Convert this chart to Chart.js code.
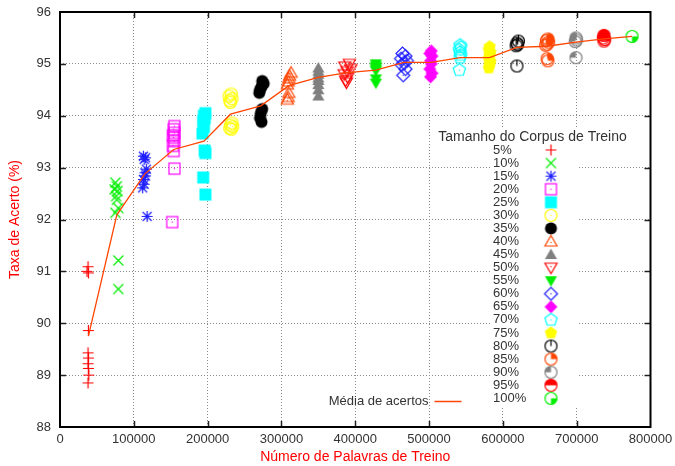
<!DOCTYPE html>
<html>
<head>
<meta charset="utf-8">
<script src="https://cdn.jsdelivr.net/npm/chart.js@4.4.0/dist/chart.umd.min.js"></script>
<style>
    html, body { margin: 0; padding: 0; background: #fff; }
    #wrap { width: 675px; height: 466px; }
</style>
</head>
<body>
<div id="wrap"><canvas id="chart"></canvas></div>
<script>
// Taxa de acerto x número de palavras de treino

const sizes = ['5%', '10%', '15%', '20%', '25%', '30%', '35%', '40%', '45%', '50%',
    '55%', '60%', '65%', '70%', '75%', '80%', '85%', '90%', '95%', '100%'];

const words = [
    [38000, 36500, 38500, 38500, 38000, 38500, 38000, 38500, 39000, 38000],
    [75000, 77000, 74000, 78000, 76000, 77000, 79000, 75000, 79000, 79000],
    [113000, 116000, 114000, 117000, 115000, 116000, 113000, 114000, 112000, 118000],
    [155000, 154000, 155000, 153000, 154000, 155000, 153000, 154000, 155000, 152000],
    [197000, 195000, 196000, 194000, 195000, 193000, 196000, 197000, 194000, 197000],
    [232000, 229000, 233000, 230000, 231000, 233000, 231000, 234000, 230000, 232000],
    [274000, 276000, 273000, 271000, 270000, 274000, 272000, 271000, 273000],
    [313000, 311000, 310000, 309000, 308000, 310000, 309000, 308000],
    [350000, 350000, 350000, 350000, 350000, 350000, 350000, 350000],
    [392000, 386000, 394000, 389000, 385000, 390000, 387000, 388000],
    [428000, 428000, 428000, 428000, 428000, 428000, 428000],
    [464000, 468000, 462000, 470000, 466000, 463000, 468000, 465000],
    [503000, 501000, 504000, 502000, 503000, 501000, 504000, 502000],
    [542000, 543000, 541000, 542000, 543000, 542000, 541000],
    [582000, 581000, 583000, 582000, 581000, 583000, 582000, 581000],
    [621000, 619000, 620000, 618000, 619000],
    [661000, 659000, 662000, 660000, 658000, 660000, 661000],
    [699000, 700000, 698000, 699000],
    [737000, 736000, 738000, 737000],
    [775000]
];

const accuracy = [
    [91.09, 91.0, 90.97, 89.86, 89.43, 89.33, 89.22, 89.13, 89.0, 88.85],
    [92.71, 92.64, 92.58, 92.55, 92.45, 92.38, 92.22, 92.13, 91.21, 90.66],
    [93.22, 93.19, 93.16, 92.97, 92.9, 92.84, 92.77, 92.68, 92.61, 92.06],
    [93.8, 93.74, 93.67, 93.62, 93.58, 93.51, 93.42, 93.32, 92.98, 91.95],
    [94.05, 94.0, 93.95, 93.9, 93.78, 93.66, 93.33, 93.28, 92.81, 92.48],
    [94.42, 94.38, 94.33, 94.29, 94.26, 93.86, 93.82, 93.79, 93.76, 93.74],
    [94.67, 94.62, 94.56, 94.5, 94.44, 94.13, 94.05, 93.96, 93.88],
    [94.83, 94.77, 94.72, 94.66, 94.6, 94.44, 94.36, 94.31],
    [94.92, 94.86, 94.8, 94.73, 94.68, 94.6, 94.5, 94.38],
    [95.0, 94.95, 94.9, 94.86, 94.8, 94.74, 94.68, 94.64],
    [95.0, 94.96, 94.93, 94.9, 94.87, 94.71, 94.63],
    [95.2, 95.15, 95.1, 95.06, 95.02, 94.98, 94.9, 94.78],
    [95.25, 95.2, 95.15, 95.06, 95.0, 94.9, 94.82, 94.75],
    [95.36, 95.32, 95.27, 95.22, 95.17, 95.12, 94.88],
    [95.33, 95.27, 95.22, 95.16, 95.1, 95.04, 94.98, 94.92],
    [95.44, 95.4, 95.37, 95.35, 94.96],
    [95.48, 95.45, 95.42, 95.38, 95.36, 95.1, 95.06],
    [95.5, 95.46, 95.43, 95.12],
    [95.55, 95.5, 95.47, 95.44],
    [95.53]
];

const meanWords = [38500, 77000, 115000, 154000, 195000, 231000, 272000, 310000, 350000, 389000,
    428000, 466000, 503000, 542000, 582000, 619000, 660000, 699000, 737000, 775000];
const meanAccuracy = [89.75, 92.09, 92.88, 93.35, 93.51, 94.03, 94.19, 94.58, 94.74, 94.83,
    94.88, 95.03, 95.03, 95.12, 95.12, 95.32, 95.34, 95.42, 95.48, 95.53];

const colors = ['#ff0000', '#00ee00', '#1f1fff', '#ff00ff', '#00ffff', '#ffff00', '#000000', '#ff4500', '#808080', '#ff0000',
    '#00ee00', '#1f1fff', '#ff00ff', '#00ffff', '#ffff00', '#000000', '#ff4500', '#808080', '#ff0000', '#00ee00'];
const symbols = ['plus', 'cross', 'star', 'square', 'squareFill', 'circle', 'circleFill', 'tri', 'triFill', 'triDown',
    'triDownFill', 'diamond', 'diamondFill', 'pent', 'pentFill', 'clock', 'quarterTR', 'quarterTL', 'halfTop', 'quarterBR'];

const lineColor = '#ff4500';
const textColor = '#333';
const fontFamily = '"Liberation Sans", Arial, sans-serif';

function makeSymbol(kind, color) {
    const c = document.createElement('canvas');
    c.width = 17;
    c.height = 17;
    const g = c.getContext('2d');
    const m = 8.5, r = 6;
    g.strokeStyle = color;
    g.fillStyle = color;
    g.lineWidth = 1.2;

    function poly(n, start, rad) {
        g.beginPath();
        for (let i = 0; i < n; i++) {
            const a = start + i * 2 * Math.PI / n;
            const px = m + rad * Math.cos(a), py = m + rad * Math.sin(a);
            if (i === 0) g.moveTo(px, py); else g.lineTo(px, py);
        }
        g.closePath();
    }
    function dot() {
        g.fillRect(m - 0.6, m - 0.6, 1.2, 1.2);
    }
    function ring() {
        g.beginPath();
        g.arc(m, m, r, 0, 2 * Math.PI);
        g.stroke();
    }
    function sector(a0, a1) {
        g.beginPath();
        g.moveTo(m, m);
        g.arc(m, m, r, a0, a1);
        g.closePath();
        g.fill();
    }

    switch (kind) {
        case 'plus':
            g.beginPath();
            g.moveTo(m - 5.5, m); g.lineTo(m + 5.5, m);
            g.moveTo(m, m - 5.5); g.lineTo(m, m + 5.5);
            g.stroke();
            break;
        case 'cross':
            g.beginPath();
            g.moveTo(m - 5, m - 5); g.lineTo(m + 5, m + 5);
            g.moveTo(m + 5, m - 5); g.lineTo(m - 5, m + 5);
            g.stroke();
            break;
        case 'star':
            g.beginPath();
            g.moveTo(m - 5.5, m); g.lineTo(m + 5.5, m);
            g.moveTo(m, m - 5.5); g.lineTo(m, m + 5.5);
            g.moveTo(m - 4.5, m - 4.5); g.lineTo(m + 4.5, m + 4.5);
            g.moveTo(m + 4.5, m - 4.5); g.lineTo(m - 4.5, m + 4.5);
            g.stroke();
            break;
        case 'square':
            g.strokeRect(m - 5.5, m - 5.5, 11, 11);
            dot();
            break;
        case 'squareFill':
            g.fillRect(m - 6, m - 6, 12, 12);
            break;
        case 'circle':
            ring();
            dot();
            break;
        case 'circleFill':
            g.beginPath();
            g.arc(m, m, r, 0, 2 * Math.PI);
            g.fill();
            break;
        case 'tri':
            g.translate(0, 1);
            poly(3, -Math.PI / 2, 7);
            g.stroke();
            dot();
            break;
        case 'triFill':
            g.translate(0, 1);
            poly(3, -Math.PI / 2, 7);
            g.fill();
            break;
        case 'triDown':
            g.translate(0, -1);
            poly(3, Math.PI / 2, 7);
            g.stroke();
            dot();
            break;
        case 'triDownFill':
            g.translate(0, -1);
            poly(3, Math.PI / 2, 7);
            g.fill();
            break;
        case 'diamond':
            poly(4, 0, 6.5);
            g.stroke();
            dot();
            break;
        case 'diamondFill':
            poly(4, 0, 6.5);
            g.fill();
            break;
        case 'pent':
            poly(5, -Math.PI / 2, 6.5);
            g.stroke();
            dot();
            break;
        case 'pentFill':
            poly(5, -Math.PI / 2, 6.5);
            g.fill();
            break;
        case 'clock':
            ring();
            g.beginPath();
            g.moveTo(m, m); g.lineTo(m, m - r);
            g.stroke();
            break;
        case 'quarterTR':
            ring();
            sector(-Math.PI / 2, 0);
            break;
        case 'quarterTL':
            ring();
            sector(-Math.PI, -Math.PI / 2);
            break;
        case 'halfTop':
            ring();
            sector(-Math.PI, 0);
            break;
        case 'quarterBR':
            ring();
            sector(0, Math.PI / 2);
            break;
    }
    return c;
}

const symbolImages = sizes.map((s, i) => makeSymbol(symbols[i], colors[i]));

// white box behind the key entries, drawn over the grid
const keyBox = {
    id: 'keyBox',
    beforeDatasetsDraw(chart) {
        const { ctx, chartArea } = chart;
        ctx.save();
        ctx.fillStyle = '#fff';
        ctx.fillRect(chartArea.right - 160, chartArea.top + 116, 87, 280);
        ctx.restore();
    }
};

// gnuplot-like frame with inward ticks and the key
const frameAndKey = {
    id: 'frameAndKey',
    afterDraw(chart) {
        const { ctx, chartArea, scales } = chart;
        const { left, right, top, bottom } = chartArea;
        ctx.save();

        ctx.strokeStyle = '#222';
        ctx.lineWidth = 1.5;
        ctx.beginPath();
        scales.x.ticks.forEach(t => {
            if (t.value <= scales.x.min || t.value >= scales.x.max) return;
            const px = Math.round(scales.x.getPixelForValue(t.value)) + 0.5;
            ctx.moveTo(px, bottom); ctx.lineTo(px, bottom - 6);
            ctx.moveTo(px, top); ctx.lineTo(px, top + 6);
        });
        scales.y.ticks.forEach(t => {
            if (t.value <= scales.y.min || t.value >= scales.y.max) return;
            const py = Math.round(scales.y.getPixelForValue(t.value)) + 0.5;
            ctx.moveTo(left, py); ctx.lineTo(left + 6, py);
            ctx.moveTo(right, py); ctx.lineTo(right - 6, py);
        });
        ctx.stroke();

        ctx.strokeStyle = '#000';
        ctx.lineWidth = 2;
        ctx.strokeRect(left, top, right - left, bottom - top);

        // key
        ctx.fillStyle = textColor;
        ctx.font = '14px ' + fontFamily;
        ctx.textBaseline = 'middle';
        ctx.textAlign = 'center';
        ctx.fillText('Tamanho do Corpus de Treino', right - 118, top + 125);

        ctx.font = '13px ' + fontFamily;
        ctx.textAlign = 'left';
        sizes.forEach((s, i) => {
            const y = top + 138 + i * 13.07;
            ctx.fillText(s, right - 157.5, y);
            const img = symbolImages[i];
            ctx.drawImage(img, right - 99.5 - img.width / 2, y - img.height / 2);
        });

        const my = top + 389.5;
        ctx.textAlign = 'right';
        ctx.fillText('Média de acertos', right - 222, my);
        ctx.strokeStyle = lineColor;
        ctx.lineWidth = 1.5;
        ctx.beginPath();
        ctx.moveTo(right - 216, my);
        ctx.lineTo(right - 189, my);
        ctx.stroke();

        ctx.restore();
    }
};

function loadChart() {
    const ctx = document.getElementById('chart');

    const datasets = sizes.map((s, i) => ({
        label: s,
        data: words[i].map((w, j) => ({ x: w, y: accuracy[i][j] })),
        pointStyle: symbolImages[i],
        pointRadius: 6,
        pointHoverRadius: 6,
        showLine: false,
        order: 1
    }));

    datasets.push({
        label: 'Média de acertos',
        data: meanWords.map((w, j) => ({ x: w, y: meanAccuracy[j] })),
        showLine: true,
        borderColor: lineColor,
        borderWidth: 1.3,
        pointRadius: 0,
        fill: false,
        tension: 0,
        order: 0
    });

    new Chart(ctx, {
        type: 'scatter',
        data: { datasets: datasets },
        options: {
            responsive: true,
            maintainAspectRatio: false,
            animation: false,
            events: [],
            layout: {
                padding: { top: 12, right: 24.5, left: 0, bottom: 0 }
            },
            plugins: {
                legend: { display: false },
                tooltip: { enabled: false }
            },
            scales: {
                x: {
                    type: 'linear',
                    min: 0,
                    max: 800000,
                    afterFit: scale => {
                        scale.height = 39;
                        scale.paddingLeft = 0;
                        scale.paddingRight = 0;
                    },
                    ticks: {
                        stepSize: 100000,
                        maxRotation: 0,
                        autoSkip: false,
                        padding: 5,
                        color: textColor,
                        font: { family: fontFamily, size: 13 },
                        callback: value => String(value)
                    },
                    grid: { color: '#8a8a8a', lineWidth: 1, drawTicks: false },
                    border: { display: false, dash: [1, 2] },
                    title: {
                        display: true,
                        text: 'Número de Palavras de Treino',
                        color: '#ff0000',
                        font: { family: fontFamily, size: 14 },
                        padding: { top: 0, bottom: 0 }
                    }
                },
                y: {
                    min: 88,
                    max: 96,
                    afterFit: scale => {
                        scale.width = 60;
                        scale.paddingTop = 0;
                        scale.paddingBottom = 0;
                    },
                    ticks: {
                        stepSize: 1,
                        padding: 9,
                        color: textColor,
                        font: { family: fontFamily, size: 13 }
                    },
                    grid: { color: '#8a8a8a', lineWidth: 1, drawTicks: false },
                    border: { display: false, dash: [1, 2] },
                    title: {
                        display: true,
                        text: 'Taxa de Acerto (%)',
                        color: '#ff0000',
                        font: { family: fontFamily, size: 14 },
                        padding: { top: 7, bottom: 0 }
                    }
                }
            }
        },
        plugins: [keyBox, frameAndKey]
    });
}

document.addEventListener('DOMContentLoaded', loadChart);
</script>
</body>
</html>
